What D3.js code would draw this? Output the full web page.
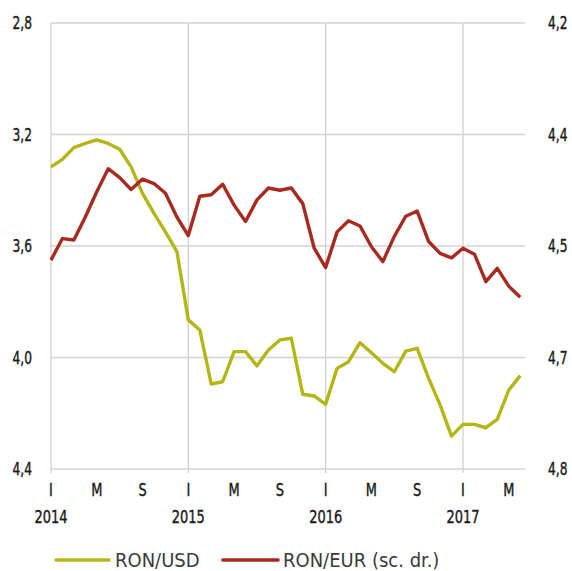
<!DOCTYPE html>
<html>
<head>
<meta charset="utf-8">
<script src="https://cdn.jsdelivr.net/npm/d3@7/dist/d3.min.js"></script>
<style>
  html, body { margin: 0; padding: 0; background: #fff; }
  svg { display: block; }
  text { font-family: "Liberation Sans Narrow", "DejaVu Sans Condensed", "Arial Narrow", sans-serif; }
</style>
</head>
<body>
<svg id="chart" width="572" height="571"></svg>
<script>
// Monthly data, Jan 2014 - Jun 2017
const months = d3.range(0, 42).map(i => new Date(2014, i, 1));

// RON/USD (left axis, inverted)
const ronUsd = [3.316, 3.289, 3.247, 3.232, 3.219, 3.232, 3.253, 3.316, 3.411, 3.483, 3.549, 3.620,
                3.865, 3.901, 4.095, 4.087, 3.979, 3.979, 4.030, 3.973, 3.937, 3.931, 4.132, 4.138,
                4.168, 4.039, 4.015, 3.947, 3.983, 4.021, 4.051, 3.977, 3.967, 4.075, 4.170, 4.282,
                4.240, 4.240, 4.252, 4.222, 4.117, 4.065];

// RON/EUR (right axis, inverted)
const ronEur = [4.519, 4.490, 4.492, 4.461, 4.427, 4.396, 4.408, 4.424, 4.410, 4.416, 4.429, 4.461,
                4.486, 4.433, 4.431, 4.417, 4.445, 4.467, 4.438, 4.422, 4.425, 4.422, 4.443, 4.503,
                4.529, 4.481, 4.466, 4.473, 4.501, 4.521, 4.487, 4.460, 4.453, 4.494, 4.510, 4.516,
                4.503, 4.511, 4.548, 4.530, 4.554, 4.569];

// Axis ticks
const leftTicks = [2.8, 3.2, 3.6, 4.0, 4.4];
const leftTickLabels = ["2,8", "3,2", "3,6", "4,0", "4,4"];
const rightTicks = [4.2, 4.35, 4.5, 4.65, 4.8];
const rightTickLabels = ["4,2", "4,4", "4,5", "4,7", "4,8"];
const monthTickIdx = [0, 4, 8, 12, 16, 20, 24, 28, 32, 36, 40];
const monthTickLabels = ["I", "M", "S", "I", "M", "S", "I", "M", "S", "I", "M"];
const yearTickIdx = [0, 12, 24, 36];
const yearTickLabels = ["2014", "2015", "2016", "2017"];

const seriesNames = ["RON/USD", "RON/EUR (sc. dr.)"];
const colors = ["#b3b614", "#a8291f"];

const svg = d3.select("#chart");
const L = 51, R = 525, T = 23, B = 469;

const x = d3.scaleLinear().domain([0, 41.42]).range([L, R]);
const yL = d3.scaleLinear().domain([2.8, 4.4]).range([T, B]);
const yR = d3.scaleLinear().domain([4.2, 4.8]).range([T, B]);

const grid = svg.append("g").attr("stroke", "#d3d3d3").attr("stroke-width", 1.4);

// horizontal gridlines
grid.selectAll("line.h").data(leftTicks).join("line")
  .attr("x1", L).attr("x2", R)
  .attr("y1", d => yL(d)).attr("y2", d => yL(d));

// vertical gridlines at January
grid.selectAll("line.v").data(yearTickIdx).join("line")
  .attr("x1", d => x(d)).attr("x2", d => x(d))
  .attr("y1", T).attr("y2", B + 4);

const SX = 0.8; // horizontal condensing of tick labels
function tickText(sel, px, py, size, anchor, labels) {
  sel.attr("transform", (d, i) => `translate(${px(d, i)},${py(d, i)}) scale(${SX},1)`)
    .attr("text-anchor", anchor)
    .attr("font-size", size)
    .attr("fill", "#1a1a1a")
    .attr("stroke", "#1a1a1a")
    .attr("stroke-width", 0.4)
    .text((d, i) => labels[i]);
}

// left axis labels
svg.append("g").selectAll("text").data(leftTicks).join("text")
  .attr("dy", "0.36em")
  .call(tickText, () => 32, d => yL(d), 17, "end", leftTickLabels);

// right axis labels
svg.append("g").selectAll("text").data(rightTicks).join("text")
  .attr("dy", "0.36em")
  .call(tickText, () => 548, d => yR(d), 17, "start", rightTickLabels);

// month letters
svg.append("g").selectAll("text").data(monthTickIdx).join("text")
  .call(tickText, d => x(d), () => 496, 18, "middle", monthTickLabels);

// years
svg.append("g").selectAll("text").data(yearTickIdx).join("text")
  .call(tickText, d => x(d), () => 523, 18, "middle", yearTickLabels);

// lines
const lineL = d3.line().x((d, i) => x(i)).y(d => yL(d));
const lineR = d3.line().x((d, i) => x(i)).y(d => yR(d));

svg.append("path").datum(ronUsd)
  .attr("d", lineL).attr("fill", "none")
  .attr("stroke", colors[0]).attr("stroke-width", 3.4)
  .attr("stroke-linejoin", "round");

svg.append("path").datum(ronEur)
  .attr("d", lineR).attr("fill", "none")
  .attr("stroke", colors[1]).attr("stroke-width", 3.4)
  .attr("stroke-linejoin", "round");

// legend
const legend = svg.append("g");
const legendItems = [
  { x1: 56, x2: 109, tx: 115 },
  { x1: 223, x2: 278, tx: 283 }
];
legendItems.forEach((it, i) => {
  legend.append("line")
    .attr("x1", it.x1).attr("x2", it.x2)
    .attr("y1", 560).attr("y2", 560)
    .attr("stroke", colors[i]).attr("stroke-width", 3.6)
    .attr("stroke-linecap", "round");
  legend.append("text")
    .attr("x", it.tx).attr("y", 567)
    .attr("font-size", 20)
    .attr("fill", "#3a3a3a")
    .text(seriesNames[i]);
});
</script>
</body>
</html>
